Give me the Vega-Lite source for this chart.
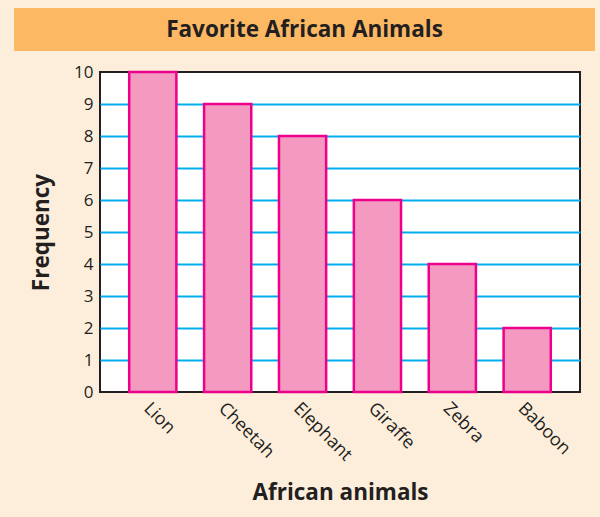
{
  "$schema": "https://vega.github.io/schema/vega-lite/v6.json",
  "background": "#fdeedc",
  "padding": {"left": 14, "top": 8, "right": 5, "bottom": 13},
  "spacing": 11,
  "datasets": {
    "heading": [{"title": "Favorite African Animals"}],
    "animals": [
      {"animal": "Lion", "frequency": 10},
      {"animal": "Cheetah", "frequency": 9},
      {"animal": "Elephant", "frequency": 8},
      {"animal": "Giraffe", "frequency": 6},
      {"animal": "Zebra", "frequency": 4},
      {"animal": "Baboon", "frequency": 2}
    ],
    "empty": []
  },
  "vconcat": [
    {
      "width": 581,
      "height": 43,
      "view": {"fill": "#fdb864", "stroke": null},
      "data": {"name": "heading"},
      "mark": {"type": "text", "font": "Open Sans", "fontWeight": "bold", "fontSize": 22.5, "color": "#231f20", "baseline": "middle", "align": "center"},
      "encoding": {"text": {"field": "title", "type": "nominal"}}
    },
    {
      "spacing": 0,
      "hconcat": [
        {
          "width": 15,
          "height": 1,
          "view": {"fill": null, "stroke": null},
          "data": {"name": "empty"},
          "mark": {"type": "point", "opacity": 0},
          "encoding": {}
        },
        {
          "width": 480,
          "height": 320,
          "view": {"fill": "white", "stroke": "#231f20", "strokeWidth": 2},
          "data": {"name": "animals"},
          "mark": {"type": "bar", "fill": "#f49ac1", "stroke": "#ec008c", "strokeWidth": 2.5},
          "encoding": {
            "x": {
              "field": "animal", "type": "nominal", "sort": null,
              "scale": {"paddingInner": 0.37, "paddingOuter": 0.39},
              "title": "African animals",
              "axis": {"labelAngle": 45, "ticks": false, "domain": false, "grid": false, "labelFontSize": 18, "labelPadding": 7, "titlePadding": 17}
            },
            "y": {
              "field": "frequency", "type": "quantitative",
              "scale": {"domain": [0, 10], "nice": false},
              "title": "Frequency",
              "axis": {
                "values": [0, 1, 2, 3, 4, 5, 6, 7, 8, 9, 10],
                "ticks": false, "domain": false,
                "grid": true, "gridColor": "#00aeef", "gridWidth": 2,
                "gridOpacity": {"condition": {"test": "datum.value == 0 || datum.value == 10", "value": 0}, "value": 1},
                "labelFontSize": 17, "labelPadding": 7, "titlePadding": 20
              }
            }
          }
        }
      ]
    }
  ],
  "config": {
    "font": "Open Sans",
    "axis": {
      "labelFont": "Open Sans", "labelColor": "#231f20",
      "titleFont": "Open Sans", "titleFontSize": 22.5, "titleFontWeight": "bold", "titleColor": "#231f20"
    }
  }
}
